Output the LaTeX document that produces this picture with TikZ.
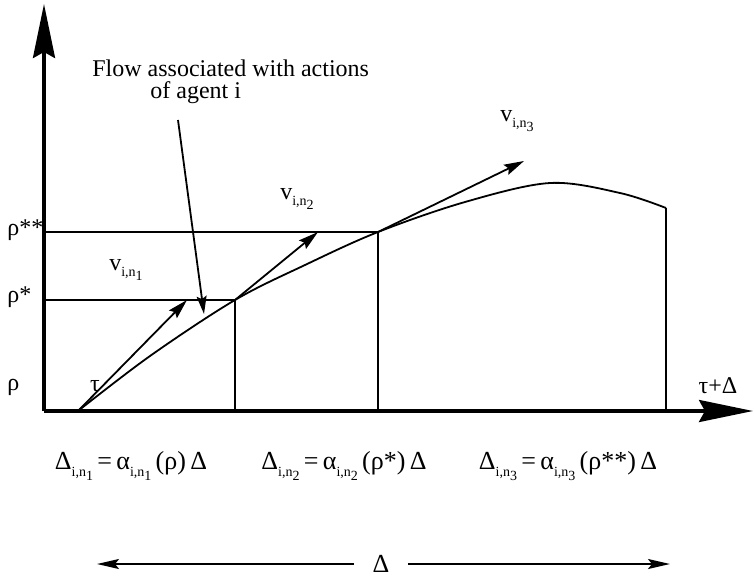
\documentclass[tikz,border=0pt]{standalone}
\usepackage{fontspec}
\setmainfont{Liberation Serif}
\usetikzlibrary{arrows.meta}
\newcommand{\low}[1]{\raisebox{-0.6ex}{\scriptsize #1}}
\begin{document}
\begin{tikzpicture}[
    x=0.5pt, y=-0.5pt,
    font=\fontsize{12}{14}\selectfont,
    axis/.style = {line width=1.7pt, -{Stealth[length=27pt, width=11pt, inset=3pt]}},
    vec/.style = {line width=0.9pt, -{Stealth[length=10pt, width=5.5pt, inset=1.5pt]}},
    guide/.style = {line width=0.7pt},
    lbl/.style = {inner sep=0pt},
    formula/.style = {inner sep=0pt, font=\fontsize{13}{15}\selectfont}
]
    \useasboundingbox (0,0) rectangle (754,578);

    % points of the flow curve
    \coordinate (origin) at (44,411);
    \coordinate (tau) at (78,411);
    \coordinate (knee1) at (235,300);
    \coordinate (knee2) at (378,232);
    \coordinate (peak) at (550,183);
    \coordinate (last) at (666,208);

    % axes
    \draw[axis] (origin) -- (44,4);
    \draw[axis] (origin) -- (753,411);

    % levels and sub-intervals
    \draw[guide] (origin |- knee1) -- (knee1) -- (knee1 |- origin);
    \draw[guide] (origin |- knee2) -- (knee2) -- (knee2 |- origin);
    \draw[guide] (last) -- (last |- origin);

    % flow curve
    \draw[line width=0.9pt] plot[smooth, tension=0.55] coordinates
        {(tau) (150,356) (knee1) (305,265) (knee2) (465,202) (peak) (620,193) (last)};

    % velocity vectors
    \draw[vec] (tau) -- (187,300);
    \draw[vec] (knee1) -- (318,232);
    \draw[vec] (knee2) -- (524,161);

    \node[lbl] (v1) at (126,270) {v\low{i,n\low{1}}};
    \node[lbl] (v2) at (297,199) {v\low{i,n\low{2}}};
    \node[lbl] (v3) at (517,121) {v\low{i,n\low{3}}};

    % annotation
    \node[lbl, align=left, anchor=north west, font=\fontsize{12}{11}\selectfont] (flow) at (92,59)
        {Flow associated with actions\\\hspace*{29pt}of agent i};
    \coordinate (flowtip) at (204,314);
    \draw[vec, -{Stealth[length=9pt, width=5pt, inset=1.5pt]}] (178,120) -- (flowtip);

    % axis labels
    \node[lbl, anchor=west] (rhoss) at (7,230) {ρ**};
    \node[lbl, anchor=west] (rhos) at (7,297) {ρ*};
    \node[lbl, anchor=west] (rho) at (7,387) {ρ};
    \node[lbl] (taul) at (95,386) {τ};
    \node[lbl] (tauend) at (718,386) {τ+Δ};

    % durations
    \node[formula] (dur1) at (131,466) {Δ\low{i,n\low{1}}\,=\,α\low{i,n\low{1}}\,(ρ)\,Δ};
    \node[formula] (dur2) at (344,466) {Δ\low{i,n\low{2}}\,=\,α\low{i,n\low{2}}\,(ρ*)\,Δ};
    \node[formula] (dur3) at (568,466) {Δ\low{i,n\low{3}}\,=\,α\low{i,n\low{3}}\,(ρ**)\,Δ};

    % total interval
    \node[formula, inner xsep=9pt] (width) at (381,564) {Δ};
    \coordinate (wleft) at (97,564);
    \coordinate (wright) at (670,564);
    \draw[vec, -{Stealth[length=11pt, width=5pt, inset=2pt]}] (width) -- (wleft);
    \draw[vec, -{Stealth[length=11pt, width=5pt, inset=2pt]}] (width) -- (wright);
\end{tikzpicture}
\end{document}
